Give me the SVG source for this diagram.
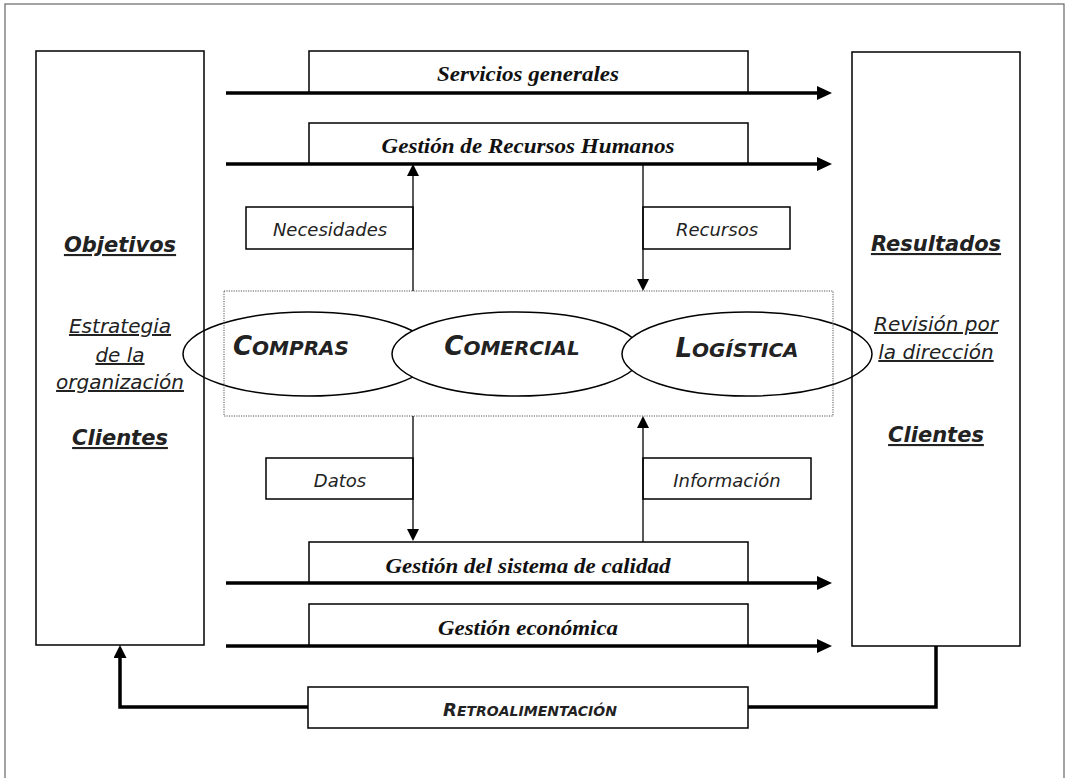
<svg xmlns="http://www.w3.org/2000/svg" width="1065" height="778" viewBox="0 0 1065 778">
<style>
.frame{fill:none;stroke:#666;stroke-width:1.2}
.box{fill:#fff;stroke:#000;stroke-width:1.5}
.obox{fill:none;stroke:#000;stroke-width:1.5}
.ell{fill:#fff;stroke:#000;stroke-width:1.5}
.dot{fill:none;stroke:#555;stroke-width:1;stroke-dasharray:1.2 1.2}
.thick{fill:none;stroke:#000;stroke-width:3.5}
.thin{fill:none;stroke:#000;stroke-width:1.3}
.tr{font-family:"Liberation Serif","Times New Roman",serif;font-style:italic;font-weight:bold;font-size:22px;fill:#111;text-anchor:middle}
.sb{font-family:"DejaVu Sans",Verdana,sans-serif;font-style:italic;font-weight:bold;font-size:21px;fill:#222;text-anchor:middle;text-decoration:underline}
.si{font-family:"DejaVu Sans",Verdana,sans-serif;font-style:italic;font-size:20px;fill:#222;text-anchor:middle;text-decoration:underline}
.lab{font-family:"DejaVu Sans",Verdana,sans-serif;font-style:italic;font-size:18px;fill:#222;text-anchor:middle}
.sc{font-family:"DejaVu Sans",Verdana,sans-serif;font-style:italic;font-weight:bold;fill:#222;text-anchor:middle}
</style>
<defs>
<marker id="ah" markerUnits="userSpaceOnUse" markerWidth="15" markerHeight="14" refX="3" refY="7" orient="auto"><path d="M0,0 L15,7 L0,14 z" fill="#000"/></marker>
<marker id="as" markerUnits="userSpaceOnUse" markerWidth="12" markerHeight="12" refX="2" refY="6" orient="auto"><path d="M0,0 L12,6 L0,12 z" fill="#000"/></marker>
<marker id="am" markerUnits="userSpaceOnUse" markerWidth="13" markerHeight="13" refX="2" refY="6.5" orient="auto"><path d="M0,0 L13,6.5 L0,13 z" fill="#000"/></marker>
</defs>
<rect class="frame" x="5" y="4" width="1059" height="790"/>

<g id="proceso-central">
<ellipse class="ell" cx="308" cy="354" rx="125" ry="42"/>
<ellipse class="ell" cx="517" cy="354" rx="125" ry="42"/>
<ellipse class="ell" cx="747" cy="354" rx="125" ry="42"/>
<rect class="dot" x="224" y="291" width="609" height="125"/>
<text class="sc" x="291" y="355"><tspan font-size="26">C</tspan><tspan font-size="20">OMPRAS</tspan></text>
<text class="sc" x="512" y="355"><tspan font-size="26">C</tspan><tspan font-size="20">OMERCIAL</tspan></text>
<text class="sc" x="737" y="357"><tspan font-size="26">L</tspan><tspan font-size="20">OGÍSTICA</tspan></text>
</g>

<g id="objetivos">
<rect class="obox" x="36" y="51" width="168" height="594"/>
<text class="sb" x="120" y="252">Objetivos</text>
<text class="si" x="120" y="333">Estrategia</text>
<text class="si" x="120" y="362">de la</text>
<text class="si" x="120" y="389">organización</text>
<text class="sb" x="120" y="445">Clientes</text>
</g>

<g id="resultados">
<rect class="obox" x="852" y="52" width="168" height="594"/>
<text class="sb" x="936" y="251">Resultados</text>
<text class="si" x="936" y="331">Revisión por</text>
<text class="si" x="936" y="359">la dirección</text>
<text class="sb" x="936" y="442">Clientes</text>
</g>

<g id="servicios-generales">
<rect class="box" x="309" y="51" width="439" height="42"/>
<text class="tr" x="528" y="81" textLength="182" lengthAdjust="spacingAndGlyphs">Servicios generales</text>
</g>
<g id="recursos-humanos">
<rect class="box" x="309" y="123" width="439" height="41"/>
<text class="tr" x="528" y="153" textLength="293" lengthAdjust="spacingAndGlyphs">Gestión de Recursos Humanos</text>
</g>
<g id="calidad">
<rect class="box" x="309" y="542" width="439" height="41"/>
<text class="tr" x="528" y="573" textLength="285" lengthAdjust="spacingAndGlyphs">Gestión del sistema de calidad</text>
</g>
<g id="economica">
<rect class="box" x="309" y="604" width="439" height="42"/>
<text class="tr" x="528" y="635" textLength="180" lengthAdjust="spacingAndGlyphs">Gestión económica</text>
</g>

<g id="necesidades">
<rect class="box" x="246" y="207" width="167" height="42"/>
<text class="lab" x="330" y="236">Necesidades</text>
</g>
<g id="recursos">
<rect class="box" x="643" y="207" width="147" height="42"/>
<text class="lab" x="717" y="236">Recursos</text>
</g>
<g id="datos">
<rect class="box" x="266" y="458" width="147" height="41"/>
<text class="lab" x="340" y="487">Datos</text>
</g>
<g id="informacion">
<rect class="box" x="643" y="458" width="168" height="41"/>
<text class="lab" x="727" y="487">Información</text>
</g>

<g id="retroalimentacion">
<rect class="box" x="308" y="687" width="440" height="41"/>
<text class="sc" x="530" y="716"><tspan font-size="18">R</tspan><tspan font-size="14">ETROALIMENTACIÓN</tspan></text>
</g>

<g id="connectors">
<line class="thick" x1="226" y1="93" x2="820" y2="93" marker-end="url(#ah)"/>
<line class="thick" x1="226" y1="164" x2="820" y2="164" marker-end="url(#ah)"/>
<line class="thick" x1="226" y1="583" x2="820" y2="583" marker-end="url(#ah)"/>
<line class="thick" x1="226" y1="646" x2="820" y2="646" marker-end="url(#ah)"/>
<line class="thin" x1="413" y1="291" x2="413" y2="174" marker-end="url(#as)"/>
<line class="thin" x1="643" y1="164" x2="643" y2="281" marker-end="url(#as)"/>
<line class="thin" x1="413" y1="416" x2="413" y2="531" marker-end="url(#as)"/>
<line class="thin" x1="643" y1="542" x2="643" y2="426" marker-end="url(#as)"/>
<path class="thick" d="M936,646 V707 H748"/>
<path class="thick" d="M308,707 H120 V656" marker-end="url(#am)"/>
</g>
</svg>
